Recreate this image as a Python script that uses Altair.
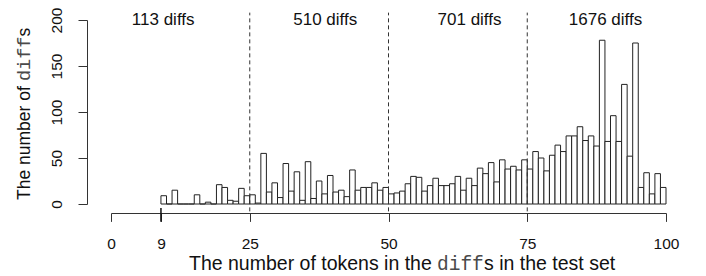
import altair as alt
import pandas as pd

# ---- data ----
bin_starts = list(range(9, 100))  # each bin is [k, k+1)
counts = [
    9, 0, 15, 0, 0, 0, 10, 0, 2, 0, 21, 18, 4, 3, 17, 9,            # 9-24
    10, 1, 55, 13, 23, 7, 44, 14, 35, 4, 46, 6, 25, 11, 31, 13,      # 25-40
    15, 8, 37, 15, 18, 18, 23, 15, 18,                               # 41-49
    11, 12, 14, 22, 30, 29, 14, 20, 28, 20, 20, 22, 30, 15, 28, 20,  # 50-65
    39, 33, 45, 24, 48, 38, 41, 37, 48,                              # 66-74
    38, 57, 50, 36, 53, 64, 57, 74, 74, 84, 69, 74, 63, 178, 68, 96, # 75-90
    68, 130, 52, 175, 18, 34, 11, 33, 18,                            # 91-99
]
section_lines = [25, 50, 75]
section_labels = ["113 diffs", "510 diffs", "701 diffs", "1676 diffs"]
section_label_x = [9.4, 38.6, 64.6, 89.1]
section_label_y = [194.6, 194.6, 194.6, 194.6]
x_ticks = [0, 9, 25, 50, 75, 100]
y_ticks = [0, 50, 100, 150, 200]

hist = pd.DataFrame({
    "start": bin_starts,
    "end": [s + 1 for s in bin_starts],
    "count": counts,
})
lines = pd.DataFrame({"x": section_lines})
ann = pd.DataFrame({"x": section_label_x, "y": section_label_y, "label": section_labels})

SANS = "Liberation Sans"
MONO = "Liberation Mono"
AX = "#333333"
MONO_COLOR = "#4a4a4a"

xs = alt.Scale(domain=[0, 100], nice=False, zero=False)
ys = alt.Scale(domain=[0, 200], nice=False, zero=False)

x_axis = alt.Axis(
    values=x_ticks, offset=9, tickSize=8.4, tickColor=AX, domainColor=AX,
    labelFont=SANS, labelFontSize=15.5, labelColor="#111111",
    labelBaseline="alphabetic", labelPadding=27, labelFlush=False,
    labelOverlap=False, grid=False, title=None,
)
y_axis = alt.Axis(
    values=y_ticks, offset=24, tickSize=9, tickColor=AX, domainColor=AX,
    labelFont=SANS, labelFontSize=15.5, labelColor="#111111",
    labelAngle=270, labelAlign="center", labelBaseline="alphabetic",
    labelPadding=16.5, labelFlush=False, labelOverlap=False, grid=False, title=None,
)

bars = alt.Chart(hist).mark_rect(fill="white", stroke="#222222", strokeWidth=1).encode(
    x=alt.X("start:Q", scale=xs, axis=x_axis),
    x2="end:Q",
    y=alt.Y("count:Q", scale=ys, axis=y_axis),
    y2=alt.datum(0),
)

rules = alt.Chart(lines).mark_rule(strokeDash=[4, 3], color="#333333", strokeWidth=1).encode(
    x=alt.X("x:Q", scale=xs),
    y=alt.datum(-8),
    y2=alt.datum(208),
)

tick9 = alt.Chart(pd.DataFrame({"x": [9]})).mark_rule(color="#111111", strokeWidth=1.5).encode(
    x=alt.X("x:Q", scale=xs),
    y=alt.datum(-4.3),
    y2=alt.datum(-19.2),
)

labels = alt.Chart(ann).mark_text(
    font=SANS, fontSize=17, align="center", baseline="alphabetic", color="#111111"
).encode(
    x=alt.X("x:Q", scale=xs),
    y=alt.Y("y:Q", scale=ys),
    text="label:N",
)


def seg(text, x, y, font, size, angle=0, color="#111111"):
    return alt.Chart(pd.DataFrame({"t": [text]})).mark_text(
        font=font, fontSize=size, align="left", baseline="alphabetic",
        angle=angle, color=color,
    ).encode(x=alt.value(x), y=alt.value(y), text="t:N")


# x title: "The number of tokens in the " + diff (mono) + "s in the test set"
xt = [
    seg("The number of tokens in the", 78, 250, SANS, 19.5),
    seg("diff", 326, 250, MONO, 19.5, color=MONO_COLOR),
    seg("s in the test set", 373, 250, SANS, 19.5),
]
# y title: "The number of " + diff (mono) + "s", rotated
yt = [
    seg("The number of", -81.5, 180, SANS, 17.5, angle=270),
    seg("diff", -81.5, 61, MONO, 18.5, angle=270, color=MONO_COLOR),
    seg("s", -81.5, 16.6, SANS, 17.5, angle=270),
]

chart = alt.layer(bars, rules, tick9, labels, *xt, *yt).properties(
    width=555,
    height=184,
    padding={"left": 103, "top": 12, "right": 32, "bottom": 72},
    autosize=alt.AutoSizeParams(type="none"),
).configure_view(stroke=None)

chart.save("out.html", embed_options={"renderer": "svg", "actions": False})
